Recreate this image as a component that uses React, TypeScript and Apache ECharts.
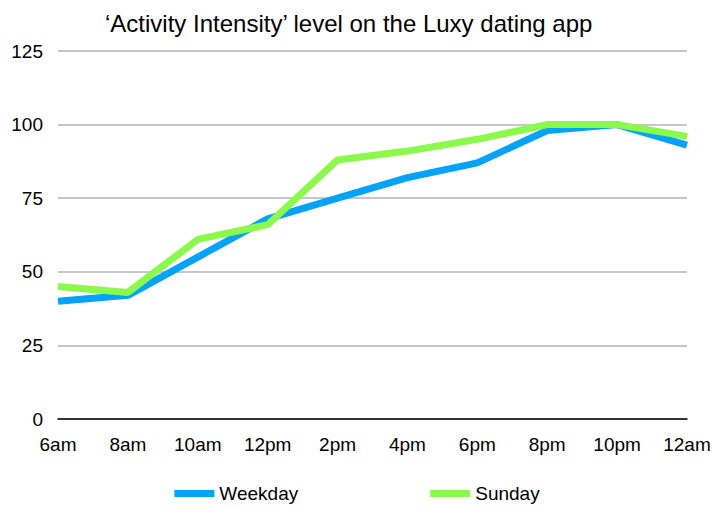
import React, { useEffect, useRef } from "react";
import * as echarts from "echarts";

const categories = ["6am", "8am", "10am", "12pm", "2pm", "4pm", "6pm", "8pm", "10pm", "12am"];
const weekday = [40, 42, 55, 68, 75, 82, 87, 98, 100, 93];
const sunday = [45, 43, 61, 66, 88, 91, 95, 100, 100, 96];
const yTicks = [0, 25, 50, 75, 100, 125];

export default function App() {
  const ref = useRef<HTMLDivElement>(null);
  useEffect(() => {
    const chart = echarts.init(ref.current!, null, { renderer: "svg" });
    const font = "Helvetica, 'Liberation Sans', Arial, sans-serif";
    chart.setOption({
      animation: false,
      textStyle: { fontFamily: font },
      title: {
        text: "\u2018Activity Intensity\u2019 level on the Luxy dating app",
        left: 100,
        top: 6,
        textStyle: { fontSize: 24, fontWeight: "normal", color: "#000", fontFamily: font },
      },
      legend: {
        top: 479,
        left: "center",
        itemWidth: 40,
        itemHeight: 7,
        itemGap: 132,
        icon: "rect",
        textStyle: { fontSize: 19, color: "#000", fontFamily: font },
        data: ["Weekday", "Sunday"],
      },
      grid: { left: 58, right: 27, top: 51, bottom: 89, containLabel: false },
      xAxis: {
        type: "category",
        data: categories,
        boundaryGap: false,
        axisLine: { lineStyle: { color: "#000", width: 1.5 } },
        axisTick: { show: false },
        axisLabel: { fontSize: 19, color: "#000", margin: 16, fontFamily: font },
      },
      yAxis: {
        type: "value",
        min: yTicks[0],
        max: yTicks[yTicks.length - 1],
        interval: 25,
        axisLine: { show: false },
        axisTick: { show: false },
        axisLabel: { fontSize: 19, color: "#000", margin: 15, fontFamily: font },
        splitLine: { lineStyle: { color: "#b3b3b3", width: 1.5 } },
      },
      series: [
        {
          name: "Weekday",
          type: "line",
          data: weekday,
          symbol: "none",
          lineStyle: { width: 7, color: "#03a2fb" },
          itemStyle: { color: "#03a2fb" },
        },
        {
          name: "Sunday",
          type: "line",
          data: sunday,
          symbol: "none",
          lineStyle: { width: 7, color: "#8bf94b" },
          itemStyle: { color: "#8bf94b" },
        },
      ],
    });
    return () => chart.dispose();
  }, []);
  return (
    <div
      ref={ref}
      style={{ position: "fixed", left: 0, top: 0, width: 714, height: 508, background: "#fff" }}
    />
  );
}
